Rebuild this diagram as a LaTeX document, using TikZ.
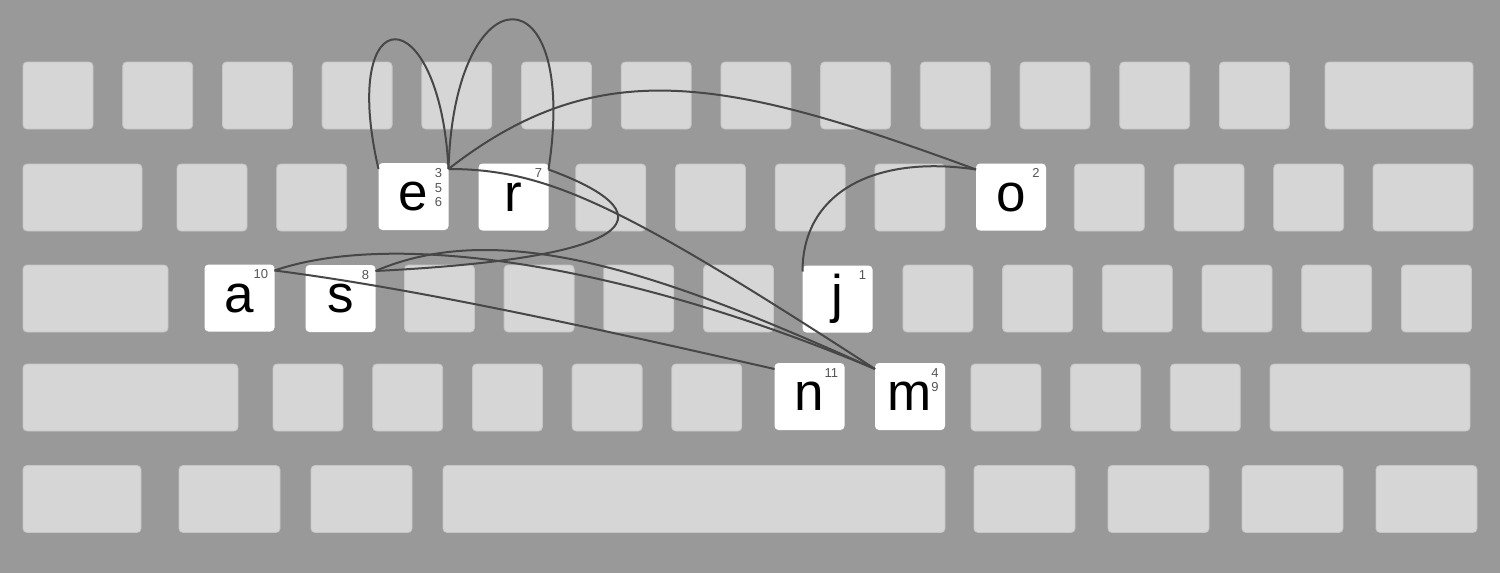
\documentclass[tikz,border=0pt]{standalone}
\usepackage{fontspec}
\setmainfont{Liberation Sans}
\definecolor{board}{HTML}{999999}
\definecolor{keygray}{HTML}{D6D6D6}
\definecolor{keyedge}{HTML}{C6C6C6}
\definecolor{trace}{HTML}{474747}
\definecolor{count}{HTML}{555555}
\tikzset{
  key/.style={draw=keyedge, fill=keygray, line width=0.4pt, rounded corners=2pt,
    minimum width=35pt, minimum height=33.5pt, inner sep=0pt, outer sep=0pt},
  hit/.style={fill=white, rounded corners=2pt, minimum width=35pt, minimum height=33.5pt,
    inner sep=0pt, outer sep=0pt, font=\fontsize{26.5}{30}\selectfont},
  order/.style={anchor=north east, inner sep=0pt, align=right, text=count,
    font=\fontsize{6.5}{7.3}\selectfont},
  trail/.style={draw=trace, line width=1pt}
}
\begin{document}
\begin{tikzpicture}[x=0.5pt,y=-0.5pt]
\useasboundingbox (0,0) rectangle (1500,573);
\fill[board] (0,0) rectangle (1500,573);
\foreach \i in {0,...,12} \node[key] (q\i) at ({58+99.7*\i},95.5) {};
\node[key, minimum width=74pt] (q13) at (1399,95.5) {};
\node[key, minimum width=59.5pt] (w0) at (82.5,197.5) {};
\foreach \i in {0,1,4,5,6,7,9,10,11} \node[key] (w\i) at ({212+99.7*\i},197.5) {};
\node[key, minimum width=50pt] (w12) at (1423,197.5) {};
\node[key, minimum width=72.5pt] (h0) at (95.5,298.5) {};
\foreach \i in {2,3,4,5,7,8,9,10,11,12} \node[key] (h\i) at ({240+99.7*\i},298.5) {};
\node[key, minimum width=107.5pt] (z0) at (130.5,397.5) {};
\foreach \i in {0,1,2,3,4,7,8,9} \node[key] (z\i) at ({308+99.7*\i},397.5) {};
\node[key, minimum width=100pt] (z10) at (1370,397.5) {};
\foreach \x/\w [count=\k] in {82/59,229.5/50.5,361.5/50.5,694/251,1024.5/50.5,1158.5/50.5,1292.5/50.5,1426.5/50.5}
  \node[key, minimum width=\w pt] (b\k) at (\x,499) {};
\node[hit] (e) at (413.5,196.5) {e};
\node[hit] (r) at (513.5,197) {r};
\node[hit] (o) at (1011,197) {o};
\node[hit] (a) at (239.5,298) {a};
\node[hit] (s) at (340.5,298.5) {s};
\node[hit] (j) at (837.5,299) {j};
\node[hit] (n) at (809.5,396.5) {n};
\node[hit] (m) at (910,396.5) {m};
\node[order] (e-n) at ([xshift=-3pt,yshift=-2.5pt]e.north east) {3\\5\\6};
\node[order] (r-n) at ([xshift=-3pt,yshift=-2.5pt]r.north east) {7};
\node[order] (o-n) at ([xshift=-3pt,yshift=-2.5pt]o.north east) {2};
\node[order] (a-n) at ([xshift=-3pt,yshift=-2.5pt]a.north east) {10};
\node[order] (s-n) at ([xshift=-3pt,yshift=-2.5pt]s.north east) {8};
\node[order] (j-n) at ([xshift=-3pt,yshift=-2.5pt]j.north east) {1};
\node[order] (n-n) at ([xshift=-3pt,yshift=-2.5pt]n.north east) {11};
\node[order] (m-n) at ([xshift=-3pt,yshift=-2.5pt]m.north east) {4\\9};
\draw[trail] ([yshift=-3pt]j.north west) .. controls +(0,-80) and +(-100,-15) .. ([yshift=-3pt]o.north west);
\draw[trail] ([yshift=-3pt]e.north east) .. controls +(150,-117) and +(-250,-92) .. ([yshift=-3pt]o.north west);
\draw[trail] ([yshift=-3pt]e.north east) .. controls +(100,0) and +(-250,-162) .. ([yshift=-3pt]m.north west);
\draw[trail] ([yshift=-3pt]e.north west) .. controls +(-40,-173) and +(-9,-173) .. ([yshift=-3pt]e.north east);
\draw[trail] ([yshift=-3pt]e.north east) .. controls +(6,-199) and +(31,-201) .. ([yshift=-3pt]r.north east);
\draw[trail] ([yshift=-3pt]r.north east) .. controls +(115,42) and +(280,-14) .. ([yshift=-3pt]s.north east);
\draw[trail] ([yshift=-3pt]s.north east) .. controls +(130,-56) and +(-200,-90) .. ([yshift=-3pt]m.north west);
\draw[trail] ([yshift=-3pt]a.north east) .. controls +(120,-41) and +(-250,-105) .. ([yshift=-3pt]m.north west);
\draw[trail] ([yshift=-3pt]a.north east) .. controls +(150,19) and +(-150,-34) .. ([yshift=-3pt]n.north west);
\end{tikzpicture}
\end{document}
